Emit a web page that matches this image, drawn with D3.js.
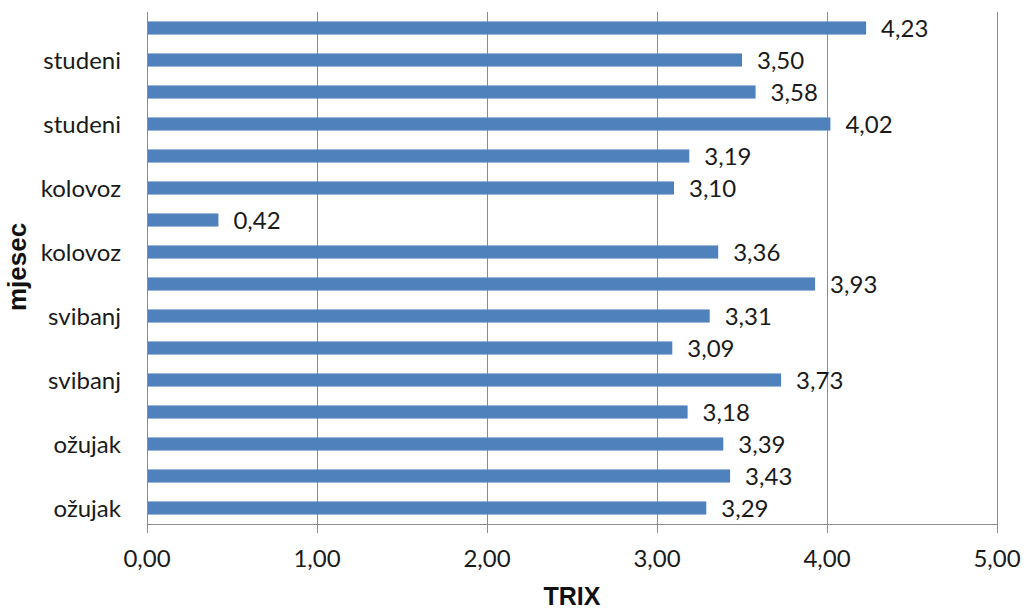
<!DOCTYPE html>
<html><head><meta charset="utf-8">
<script src="https://cdn.jsdelivr.net/npm/d3@7"></script>
<style>body{margin:0;background:#fff}</style>
</head><body>
<svg id="c" width="1027" height="610"></svg>
<script>
// bottom to top
const categories = ["ožujak","","ožujak","","svibanj","","svibanj","","kolovoz","","kolovoz","","studeni","","studeni",""];
const values = [3.29,3.43,3.39,3.18,3.73,3.09,3.31,3.93,3.36,0.42,3.10,3.19,4.02,3.58,3.50,4.23];
const xTicks = [0,1,2,3,4,5];
const xTitle = "TRIX";
const yTitle = "mjesec";

const svg = d3.select("#c");
const L = 147, R = 997, T = 12, B = 524;
const ids = categories.map((c,i)=>i);
const x = d3.scaleLinear().domain([0,5]).range([L,R]);
const y = d3.scaleBand().domain(ids).range([B,T]).paddingInner(0.59).paddingOuter(0.295);
const fmt = v => d3.format(".2f")(v).replace(".",",");
const font = "Lato, 'Open Sans', sans-serif";
const fs = 24;

// gridlines
svg.append("g").selectAll("line").data(xTicks.slice(1)).join("line")
  .attr("x1",d=>x(d)).attr("x2",d=>x(d)).attr("y1",T).attr("y2",B+9)
  .attr("stroke","#8c8c8c").attr("stroke-width",1).attr("shape-rendering","crispEdges");
// axes lines
svg.append("line").attr("x1",L).attr("x2",R).attr("y1",B).attr("y2",B)
  .attr("stroke","#8c8c8c").attr("shape-rendering","crispEdges");
svg.append("line").attr("x1",L).attr("x2",L).attr("y1",T).attr("y2",B+9)
  .attr("stroke","#8c8c8c").attr("shape-rendering","crispEdges");

// bars
svg.append("g").selectAll("rect").data(values).join("rect")
  .attr("x",x(0)+1).attr("y",(d,i)=>y(i)).attr("height",y.bandwidth())
  .attr("width",d=>x(d)-x(0)-1).attr("fill","#4f81bd");

// value labels
svg.append("g").selectAll("text").data(values).join("text")
  .attr("x",d=>x(d)+15).attr("y",(d,i)=>y(i)+y.bandwidth()/2).attr("dy","0.36em")
  .attr("font-family",font).attr("font-size",fs).attr("fill","#1a1a1a")
  .text(d=>fmt(d));

// category labels
svg.append("g").selectAll("text").data(categories).join("text")
  .attr("x",L-26).attr("y",(d,i)=>y(i)+y.bandwidth()/2).attr("dy","0.36em")
  .attr("text-anchor","end").attr("font-family",font).attr("font-size",fs).attr("fill","#1a1a1a")
  .text(d=>d);

// x tick labels
svg.append("g").selectAll("text").data(xTicks).join("text")
  .attr("x",d=>x(d)).attr("y",567).attr("text-anchor","middle")
  .attr("font-family",font).attr("font-size",fs).attr("fill","#1a1a1a")
  .text(d=>fmt(d));

// titles
svg.append("text").attr("x",572).attr("y",605).attr("text-anchor","middle")
  .attr("font-family","'Liberation Sans', Arial, sans-serif").attr("font-weight","bold")
  .attr("font-size",25).attr("fill","#111").text(xTitle);
svg.append("text").attr("transform","translate(26,267) rotate(-90)").attr("text-anchor","middle")
  .attr("font-family","'Liberation Sans', Arial, sans-serif").attr("font-weight","bold")
  .attr("font-size",26).attr("fill","#111").text(yTitle);
</script>
</body></html>
